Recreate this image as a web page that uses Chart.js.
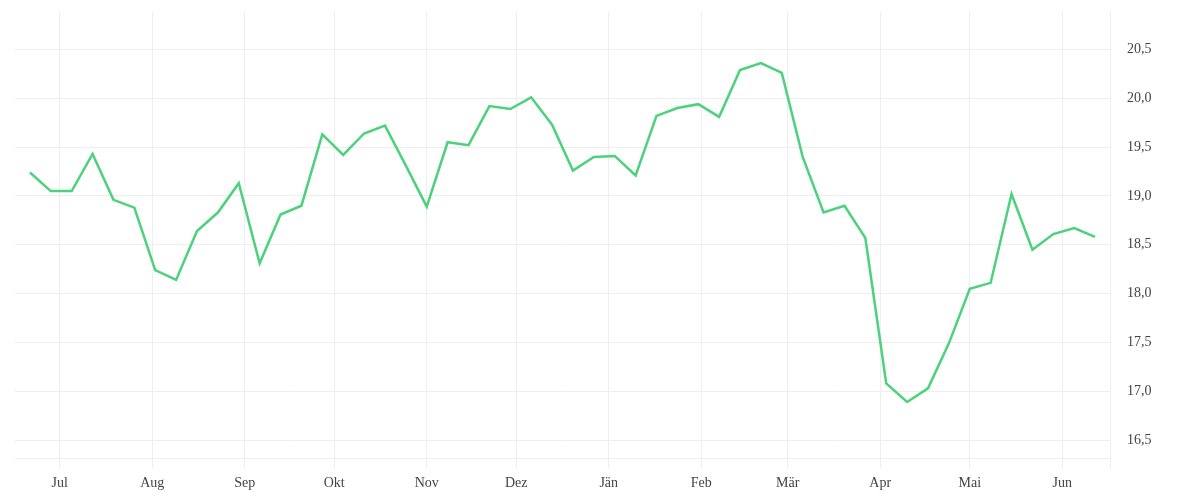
<!DOCTYPE html>
<html lang="de">
<head>
<meta charset="utf-8">
<title>Kursverlauf</title>
<script src="https://cdn.jsdelivr.net/npm/chart.js@4"></script>
<style>
  html, body { margin: 0; padding: 0; background: #fff; }
  #wrap { width: 1200px; height: 500px; position: relative; }
</style>
</head>
<body>
<div id="wrap"><canvas id="chart"></canvas></div>
<script>
// Wochenwerte
const dates = [
  '2019-06-21', '2019-06-28', '2019-07-05', '2019-07-12', '2019-07-19', '2019-07-26',
  '2019-08-02', '2019-08-09', '2019-08-16', '2019-08-23', '2019-08-30',
  '2019-09-06', '2019-09-13', '2019-09-20', '2019-09-27',
  '2019-10-04', '2019-10-11', '2019-10-18', '2019-10-25',
  '2019-11-01', '2019-11-08', '2019-11-15', '2019-11-22', '2019-11-29',
  '2019-12-06', '2019-12-13', '2019-12-20', '2019-12-27',
  '2020-01-03', '2020-01-10', '2020-01-17', '2020-01-24', '2020-01-31',
  '2020-02-07', '2020-02-14', '2020-02-21', '2020-02-28',
  '2020-03-06', '2020-03-13', '2020-03-20', '2020-03-27',
  '2020-04-03', '2020-04-10', '2020-04-17', '2020-04-24',
  '2020-05-01', '2020-05-08', '2020-05-15', '2020-05-22', '2020-05-29',
  '2020-06-05', '2020-06-12'
];
const values = [
  19.24, 19.05, 19.05, 19.43, 18.96, 18.88,
  18.24, 18.14, 18.64, 18.83, 19.13,
  18.31, 18.81, 18.90, 19.63,
  19.42, 19.64, 19.72, 19.31,
  18.89, 19.55, 19.52, 19.92, 19.89,
  20.01, 19.73, 19.26, 19.40,
  19.41, 19.21, 19.82, 19.90, 19.94,
  19.81, 20.29, 20.36, 20.26,
  19.40, 18.83, 18.90, 18.57,
  17.08, 16.89, 17.03, 17.49,
  18.05, 18.11, 19.02, 18.45, 18.61,
  18.67, 18.58
];

// Achsen
const monthStarts = [
  '2019-07-01', '2019-08-01', '2019-09-01', '2019-10-01', '2019-11-01', '2019-12-01',
  '2020-01-01', '2020-02-01', '2020-03-01', '2020-04-01', '2020-05-01', '2020-06-01'
];
const monthLabels = ['Jul', 'Aug', 'Sep', 'Okt', 'Nov', 'Dez', 'Jän', 'Feb', 'Mär', 'Apr', 'Mai', 'Jun'];
const yTicks = [16.5, 17.0, 17.5, 18.0, 18.5, 19.0, 19.5, 20.0, 20.5];
const xRange = ['2019-06-16', '2020-06-17'];
const yRange = [16.316, 20.884];

// Datum -> Tag
const day = (s) => Date.parse(s + 'T00:00:00Z') / 86400000;

const gridColor = '#eeeeee';
const tickFont = { family: '"Liberation Serif", serif', size: 14 };

new Chart(document.getElementById('chart'), {
  type: 'line',
  data: {
    datasets: [{
      data: dates.map((d, i) => ({ x: day(d), y: values[i] })),
      borderColor: '#4cd17c',
      borderWidth: 2.5,
      pointRadius: 0,
      tension: 0,
      fill: false
    }]
  },
  options: {
    responsive: true,
    maintainAspectRatio: false,
    animation: false,
    layout: { padding: { left: 15, top: 12, right: 0, bottom: 0 } },
    plugins: { legend: { display: false }, tooltip: { enabled: false } },
    scales: {
      x: {
        type: 'linear',
        min: day(xRange[0]),
        max: day(xRange[1]),
        afterBuildTicks: (scale) => {
          scale.ticks = monthStarts.map(d => ({ value: day(d) }))
            .concat([{ value: day(xRange[1]) }]);
        },
        afterFit: (scale) => {
          scale.height = 42;
          scale.paddingLeft = 0;
          scale.paddingRight = 0;
        },
        grid: { color: gridColor, tickLength: 10, lineWidth: 1 },
        border: { display: true, color: gridColor },
        ticks: {
          autoSkip: false,
          maxRotation: 0,
          padding: 7,
          color: '#444',
          font: tickFont,
          callback: (v, i) => monthLabels[i] || ''
        }
      },
      y: {
        position: 'right',
        min: yRange[0],
        max: yRange[1],
        afterBuildTicks: (scale) => {
          scale.ticks = yTicks.map(v => ({ value: v }));
        },
        afterFit: (scale) => {
          scale.width = 90;
          scale.paddingTop = 0;
          scale.paddingBottom = 0;
        },
        grid: { color: gridColor, drawTicks: false },
        border: { display: true, color: gridColor },
        ticks: {
          padding: 17,
          color: '#444',
          font: tickFont,
          callback: (v) => v.toFixed(1).replace('.', ',')
        }
      }
    }
  }
});
</script>
</body>
</html>
